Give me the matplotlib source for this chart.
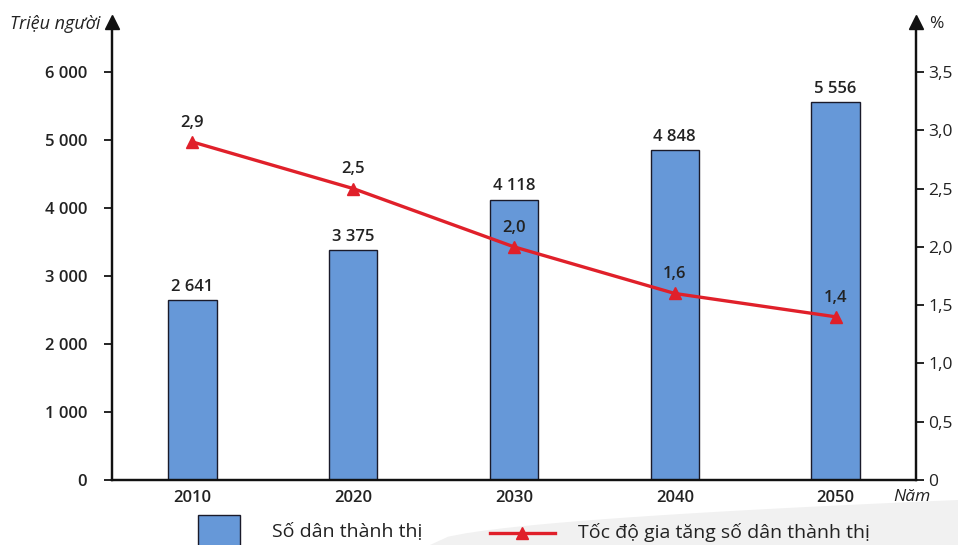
import matplotlib
matplotlib.use("Agg")
import matplotlib.pyplot as plt
import numpy as np
from matplotlib.patches import Rectangle, Polygon
from matplotlib.lines import Line2D

plt.rcParams['font.family'] = ['Open Sans', 'DejaVu Sans']

years = [2010, 2020, 2030, 2040, 2050]
urban_pop = [2641, 3375, 4118, 4848, 5556]
growth_rate = [2.9, 2.5, 2.0, 1.6, 1.4]
left_ticks = [0, 1000, 2000, 3000, 4000, 5000, 6000]
left_labels = ["0", "1 000", "2 000", "3 000", "4 000", "5 000", "6 000"]
right_ticks = [0, 0.5, 1.0, 1.5, 2.0, 2.5, 3.0, 3.5]
right_labels = ["0", "0,5", "1,0", "1,5", "2,0", "2,5", "3,0", "3,5"]
bar_labels = ["2 641", "3 375", "4 118", "4 848", "5 556"]
line_labels = ["2,9", "2,5", "2,0", "1,6", "1,4"]

W, H = 958, 545
fig = plt.figure(figsize=(W / 100, H / 100), dpi=100)

# faint background wedge
t = np.linspace(0, 1, 30)
xs = 430 + (958 - 430) * t
ys = 545 - 45 * np.sqrt(t)
pts = [(x / W, 1 - y / H) for x, y in zip(xs, ys)] + [(958 / W, 0), (430 / W, 0)]
fig.patches.append(Polygon(pts, closed=True, transform=fig.transFigure, facecolor="#f1f1f1",
                           edgecolor="none", zorder=0))

ax = fig.add_axes([112 / W, 1 - 480 / H, (916 - 112) / W, (480 - 22) / H])
ax.patch.set_alpha(0)
ax2 = ax.twinx()

bar_color = "#6698d8"
line_color = "#e0202a"
text_color = "#222222"

ax.bar(years, urban_pop, width=3.0, color=bar_color, edgecolor="#1a1a2a", linewidth=1.0, zorder=2)
for x, v, s in zip(years, urban_pop, bar_labels):
    ax.annotate(s, (x, v), xytext=(0, 4), textcoords="offset points", ha="center", va="bottom",
                fontsize=12, fontweight="semibold", color=text_color)

top_val = 6000 * (480 - 22) / (480 - 72)
ax.set_xlim(2005, 2055)
ax.set_ylim(0, top_val)
ax2.set_ylim(0, top_val / 6000 * 3.5)

ax2.plot(years, growth_rate, color=line_color, linewidth=2.4, marker="^", markersize=9, zorder=3)
for x, v, s in zip(years, growth_rate, line_labels):
    ax2.annotate(s, (x, v), xytext=(0, 8), textcoords="offset points", ha="center", va="bottom",
                 fontsize=12, fontweight="semibold", color=text_color)

ax.set_yticks(left_ticks)
ax.set_yticklabels(left_labels, fontsize=12, fontweight="semibold", color=text_color)
ax2.set_yticks(right_ticks)
ax2.set_yticklabels(right_labels, fontsize=12.5, color=text_color)
ax.set_xticks(years)
ax.set_xticklabels([str(y) for y in years], fontsize=12, fontweight="semibold", color=text_color)
ax.tick_params(axis="x", length=0, pad=7)
ax.tick_params(axis="y", length=6, width=1.2, direction="out", pad=12)
ax2.tick_params(axis="y", length=6, width=1.2, direction="out", pad=3)

for a in (ax, ax2):
    a.spines["top"].set_visible(False)
    for sp in ("left", "right", "bottom"):
        a.spines[sp].set_linewidth(1.6)
        a.spines[sp].set_color("#111111")

# arrows on axis tops
ax.plot([0, 1], [1, 1], transform=ax.transAxes, marker="^", markersize=10, color="#111111",
        linestyle="none", clip_on=False, zorder=5)

fig.text(10 / W, 1 - 24 / H, "Triệu người", fontsize=13, style="italic", color=text_color, va="center")
fig.text(929 / W, 1 - 24 / H, "%", fontsize=12.5, color=text_color, va="center")
fig.text(893 / W, 1 - 497 / H, "Năm", fontsize=12.5, style="italic", color=text_color, va="center")

# legend
fig.patches.append(Rectangle((198 / W, -0.01), 42 / W, 0.01 + 1 - 515 / H, transform=fig.transFigure,
                             facecolor=bar_color, edgecolor="#1a1a2a", linewidth=1.0, zorder=2))
fig.text(272 / W, 1 - 532 / H, "Số dân thành thị", fontsize=14, color=text_color, va="center")
fig.lines.append(Line2D([490 / W, 555 / W], [1 - 533 / H, 1 - 533 / H], transform=fig.transFigure,
                        color=line_color, linewidth=2.4, zorder=2))
fig.lines.append(Line2D([522 / W], [1 - 533 / H], transform=fig.transFigure, color=line_color,
                        marker="^", markersize=9, linestyle="none", zorder=3))
fig.text(578 / W, 1 - 532 / H, "Tốc độ gia tăng số dân thành thị", fontsize=14, color=text_color, va="center")

fig.savefig("out.png", dpi=100)
